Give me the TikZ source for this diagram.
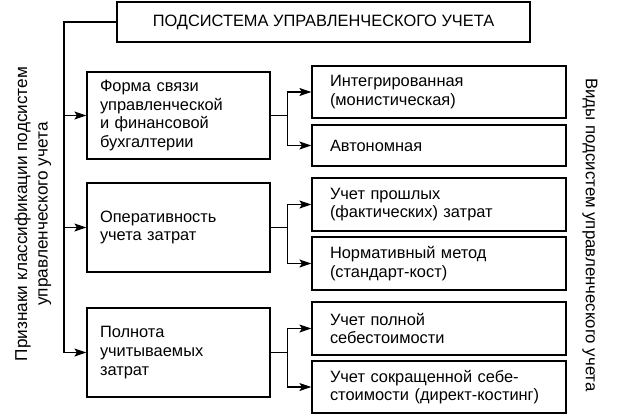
\documentclass[tikz,border=0pt]{standalone}
\usepackage{fontspec}
\setmainfont{Liberation Sans}
\usetikzlibrary{arrows.meta}
\begin{document}
\begin{tikzpicture}[x=1pt,y=-1pt,
  every node/.style={font=\fontsize{16.4}{18.7}\selectfont},
  box/.style={draw, line width=1.2pt, inner ysep=0pt, align=left},
  lbox/.style={box, minimum width=183pt, text width=157pt, inner xsep=13pt},
  rbox/.style={box, minimum width=254pt, text width=218pt, inner xsep=18pt},
  conn/.style={line width=1.1pt},
  arr/.style={conn, -{Stealth[length=12pt,width=8pt,inset=2.5pt]}}]
\useasboundingbox (0,0) rectangle (623,415);
\node[box, minimum width=413pt, minimum height=40pt, align=center] (top) at (323.5,22) {ПОДСИСТЕМА УПРАВЛЕНЧЕСКОГО УЧЕТА};
\node[lbox, minimum height=87pt] (b1) at (178.5,115.5) {Форма связи\\управленческой\\и финансовой\\бухгалтерии};
\node[lbox, minimum height=89pt] (b2) at (178.5,227.5) {Оперативность\\учета затрат};
\node[lbox, minimum height=89pt] (b3) at (178.5,352.5) {Полнота\\учитываемых\\затрат};
\node[rbox, minimum height=52pt] (r1) at (439,92) {Интегрированная\\(монистическая)};
\node[rbox, minimum height=41pt] (r2) at (439,145.5) {Автономная};
\node[rbox, minimum height=53pt] (r3) at (439,204.5) {Учет прошлых\\(фактических) затрат};
\node[rbox, minimum height=53pt] (r4) at (439,263.5) {Нормативный метод\\(стандарт-кост)};
\node[rbox, minimum height=53pt] (r5) at (439,328.5) {Учет полной\\себестоимости};
\node[rbox, minimum height=52pt] (r6) at (439,387) {Учет сокращенной себе-\\стоимости (директ-костинг)};
\node[rotate=90, align=center, font=\fontsize{17.2}{20.5}\selectfont] (lab1) at (33,214) {Признаки классификации подсистем\\управленческого учета};
\node[rotate=-90, font=\fontsize{16.8}{20}\selectfont] (lab2) at (590,235) {Виды подсистем управленческого учета};
\coordinate (sp) at (64,22);
\draw[arr] (top.west) -| (sp |- b3.west) -- (b3.west);
\draw[arr] (sp |- b1.west) -- (b1.west);
\draw[arr] (sp |- b2.west) -- (b2.west);
\draw[conn] (b1.east) -- ++(17,0) coordinate (j1);
\draw[arr] (j1) |- (r1.west);
\draw[arr] (j1) |- (r2.west);
\draw[conn] (b2.east) -- ++(17,0) coordinate (j2);
\draw[arr] (j2) |- (r3.west);
\draw[arr] (j2) |- (r4.west);
\draw[conn] (b3.east) -- ++(17,0) coordinate (j3);
\draw[arr] (j3) |- (r5.west);
\draw[arr] (j3) |- (r6.west);
\end{tikzpicture}
\end{document}
